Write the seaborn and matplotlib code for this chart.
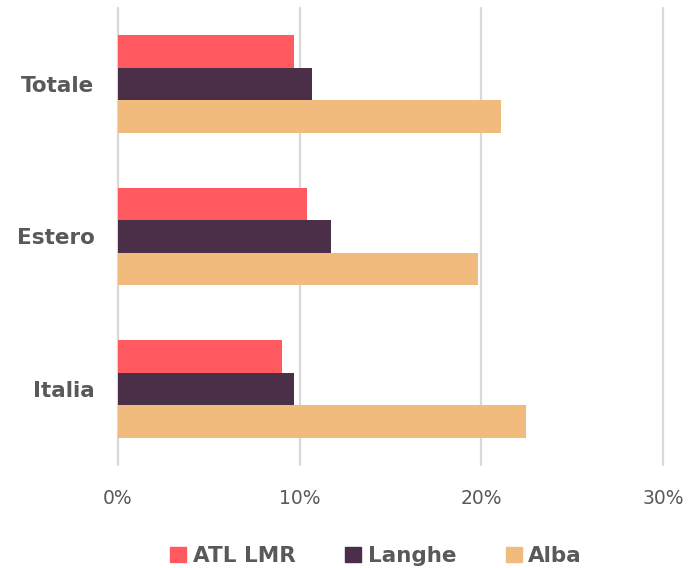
import pandas as pd
import matplotlib.pyplot as plt
import seaborn as sns

categories = ['Totale', 'Estero', 'Italia']
series = ['ATL LMR', 'Langhe', 'Alba']
atl_lmr = [9.7, 10.4, 9.0]
langhe = [10.7, 11.7, 9.7]
alba = [21.1, 19.8, 22.45]
x_ticks = [0, 10, 20, 30]
x_tick_labels = ['0%', '10%', '20%', '30%']
colors = ['#FF5A5F', '#4B2E47', '#F2BB7E']

rows = []
for name, vals in zip(series, [atl_lmr, langhe, alba]):
    for cat, v in zip(categories, vals):
        rows.append({'categoria': cat, 'serie': name, 'valore': v})
df = pd.DataFrame(rows)

sns.set_style('white')
plt.rcParams['font.family'] = ['DejaVu Sans']

fig = plt.figure(figsize=(6.89, 5.68), dpi=100)
ax = fig.add_axes([118 / 689, 1 - 465 / 568, 545 / 689, 457 / 568])

sns.barplot(data=df, y='categoria', x='valore', hue='serie', order=categories,
            hue_order=series, palette=colors, orient='h', width=0.64,
            saturation=1, ax=ax, legend=False, edgecolor='none', linewidth=0)

ax.set_xlim(0, 30)
ax.set_ylim(2.5, -0.5)
ax.set_xticks(x_ticks)
ax.set_xticklabels(x_tick_labels, fontsize=13.5, color='#595959')
ax.tick_params(axis='x', length=0, pad=17)
ax.tick_params(axis='y', length=0, pad=17)
for lab in ax.get_yticklabels():
    lab.set_fontsize(15.5)
    lab.set_fontweight('bold')
    lab.set_color('#595959')
ax.set_xlabel('')
ax.set_ylabel('')
ax.grid(axis='x', color='#D9D9D9', linewidth=1.6)
for gl in ax.get_xgridlines():
    gl.set_clip_on(False)
ax.set_axisbelow(True)
for s in ax.spines.values():
    s.set_visible(False)

handles = [plt.Rectangle((0, 0), 1, 1, color=c) for c in colors]
fig.legend(handles, series, loc='center', bbox_to_anchor=(376 / 689, 1 - 556 / 568),
           ncol=3, frameon=False, handlelength=0.75, handleheight=0.75,
           handletextpad=0.3, columnspacing=2.3,
           prop={'size': 15.5, 'weight': 'bold'}, labelcolor='#595959')

fig.savefig('out.png', dpi=100)
